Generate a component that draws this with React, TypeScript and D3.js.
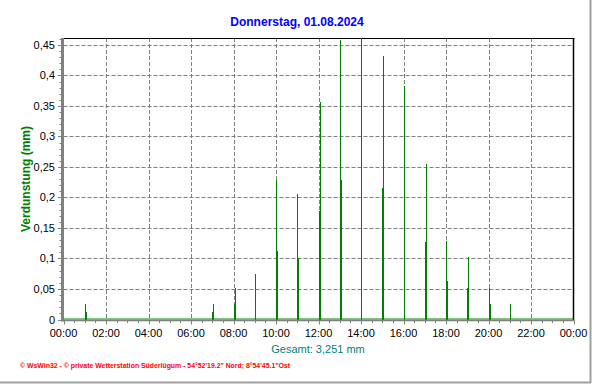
import React from "react";
import * as d3 from "d3";

const title = "Donnerstag, 01.08.2024";
const yLabel = "Verdunstung (mm)";
const totalLabel = "Gesamt: 3,251 mm";
const footer = "© WsWin32  -  © private Wetterstation Süderlügum  -  54°52'19.2\" Nord; 8°54'45.1\"Ost";

const times = [
  "01:00", "01:03",
  "07:00", "07:03",
  "08:00", "08:03",
  "09:00",
  "10:00", "10:03",
  "11:00", "11:03",
  "12:00", "12:03",
  "13:00", "13:03",
  "14:00",
  "15:00", "15:03",
  "16:00",
  "17:00", "17:03",
  "18:00", "18:03",
  "19:00", "19:03",
  "20:00", "20:03",
  "21:00",
];
const values = [
  0.025, 0.012,
  0.013, 0.026,
  0.025, 0.051,
  0.075,
  0.228, 0.113,
  0.205, 0.101,
  0.177, 0.357,
  0.458, 0.228,
  0.47,
  0.215, 0.432,
  0.383,
  0.127, 0.255,
  0.128, 0.063,
  0.052, 0.102,
  0.052, 0.025,
  0.025,
];
const xTickLabels = ["00:00", "02:00", "04:00", "06:00", "08:00", "10:00", "12:00", "14:00", "16:00", "18:00", "20:00", "22:00", "00:00"];
const yTicks = [0, 0.05, 0.1, 0.15, 0.2, 0.25, 0.3, 0.35, 0.4, 0.45];

const W = 592;
const H = 384;
const left = 63.5;
const right = 573.5;
const top = 38;
const bottom = 319.5;

function toHours(t: string) {
  const [h, m] = t.split(":").map(Number);
  return h + m / 60;
}

export default function App() {
  const x = d3.scaleLinear().domain([0, 24]).range([left, right]);
  const y = d3.scaleLinear().domain([0, 0.45]).range([bottom, 44.9]);
  const yMax = y.invert(top);
  const fmtY = (v: number) => (v === 0 ? "0" : String(+v.toFixed(2)).replace(".", ","));
  const minorX = d3.range(0, 24.01, 0.5);
  const minorY = d3.range(0, yMax, 0.01);
  const font = "'Liberation Sans', Arial, sans-serif";

  return (
    <svg width={W} height={H} style={{ position: "absolute", left: 0, top: 0, background: "#fff" }} fontFamily={font}>
      <rect x={0} y={0} width={W} height={H} fill="#fff" />
      {/* outer frame */}
      <line x1={590.5} y1={0} x2={590.5} y2={383} stroke="#a0a0a0" strokeWidth={2} />
      <line x1={0} y1={382.5} x2={591} y2={382.5} stroke="#a0a0a0" strokeWidth={2} />

      {/* title */}
      <text x={297} y={26} textAnchor="middle" fontSize={12} fontWeight="bold" fill="#0000ff">{title}</text>

      {/* grid */}
      {yTicks.filter((v) => v > 0).map((v) => (
        <line key={"gy" + v} x1={left} x2={right} y1={Math.round(y(v)) + 0.5} y2={Math.round(y(v)) + 0.5} stroke="#808080" strokeDasharray="4 2" />
      ))}
      {d3.range(2, 24, 2).map((h) => (
        <line key={"gx" + h} x1={Math.round(x(h)) + 0.5} x2={Math.round(x(h)) + 0.5} y1={top} y2={bottom} stroke="#808080" strokeDasharray="4 2" />
      ))}

      {/* frame top/right */}
      <line x1={left} x2={right + 1} y1={top + 0.5} y2={top + 0.5} stroke="#000" />
      <line x1={right} x2={right} y1={top} y2={bottom + 1} stroke="#000" strokeWidth={1.5} />

      {/* zero baseline */}
      <line x1={left} x2={right} y1={bottom - 0.5} y2={bottom - 0.5} stroke="#008000" strokeWidth={1} />

      {/* bars */}
      {times.map((t, i) => {
        const xp = Math.round(x(toHours(t)));
        const v = Math.min(values[i], yMax);
        return (
          <rect key={"b" + i} x={xp} y={y(v)} width={1} height={bottom - y(v)} fill="#008000" shapeRendering="crispEdges" />
        );
      })}

      {/* y axis */}
      <line x1={62.5} x2={62.5} y1={top} y2={bottom + 2} stroke="#808080" strokeWidth={3} />
      {minorY.map((v, i) => (
        <line key={"my" + i} x1={i % 5 === 0 ? 58 : 59.5} x2={61} y1={Math.round(y(v)) + 0.5} y2={Math.round(y(v)) + 0.5} stroke="#808080" />
      ))}
      {yTicks.map((v) => (
        <text key={"ty" + v} x={55} y={y(v) + 4} textAnchor="end" fontSize={11} fill="#000">{fmtY(v)}</text>
      ))}

      {/* x axis */}
      <line x1={left - 1} x2={right + 1} y1={bottom + 1} y2={bottom + 1} stroke="#808080" strokeWidth={1.5} />
      {minorX.map((h, i) => (
        <line key={"mx" + i} x1={Math.round(x(h)) + 0.5} x2={Math.round(x(h)) + 0.5} y1={bottom + 1} y2={i % 4 === 0 ? bottom + 5 : bottom + 3.5} stroke="#808080" />
      ))}
      {xTickLabels.map((lab, i) => (
        <text key={"tx" + i} x={x(i * 2)} y={337} textAnchor="middle" fontSize={11} fill="#000">{lab}</text>
      ))}

      {/* labels */}
      <text transform="translate(30,179) rotate(-90)" textAnchor="middle" fontSize={12} fontWeight="bold" fill="#008000">{yLabel}</text>
      <text x={318} y={353} textAnchor="middle" fontSize={11} fill="#008080">{totalLabel}</text>
      <text x={20} y={368} fontSize={7.5} fontWeight="bold" fill="#ff0000" textLength={270} lengthAdjust="spacingAndGlyphs">{footer}</text>
    </svg>
  );
}
